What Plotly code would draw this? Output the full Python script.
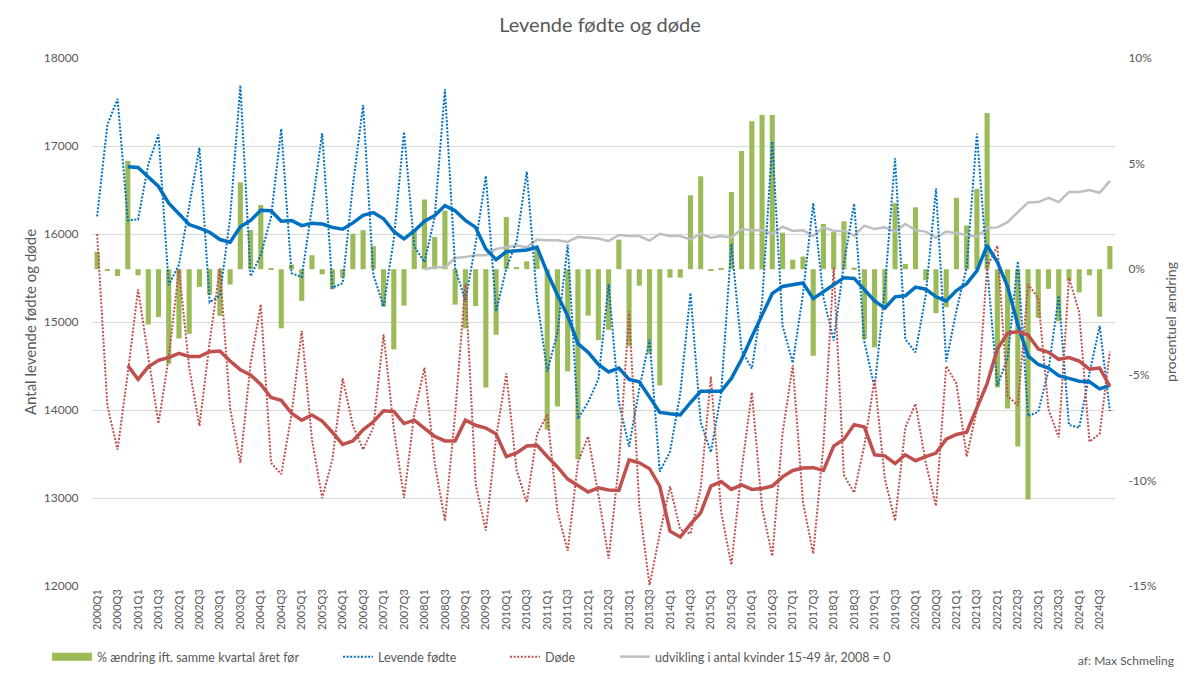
import plotly.graph_objects as go

# ---------------- data ----------------
years = list(range(2000, 2025))
quarters = [f"{y}Q{q}" for y in years for q in (1, 2, 3, 4)]

# Levende fødte (quarterly)
births = [
    16200, 17240, 17535, 16155,
    16165, 16790, 17130, 15420,
    15650, 16300, 16980, 15225,
    15300, 16180, 17690, 15520,
    15760, 16190, 17195, 15555,
    15510, 16300, 17145, 15390,
    15440, 16550, 17465, 15540,
    15175, 15940, 17160, 15860,
    15680, 16190, 17645, 15610,
    15240, 15890, 16660, 15120,
    15610, 15915, 16710, 15260,
    14440, 14880, 15880, 13900,
    14090, 14350, 15430, 14090,
    13585, 14240, 14800, 13300,
    13525, 14185, 15330, 13860,
    13520, 14190, 15890, 14680,
    14470, 15220, 17050, 14960,
    14535, 15317, 16351, 15280,
    14790, 15665, 16345, 14776,
    14250, 15383, 16860, 14805,
    14656, 15303, 16515, 14550,
    15130, 15620, 17140, 15622,
    14276, 14589, 15690, 13930,
    13980, 14453, 15300, 13830,
    13800, 14414, 14955, 13986,
]

# Døde (quarterly)
deaths = [
    16000, 14050, 13550, 14420,
    15370, 14620, 13846, 14600,
    15600, 14480, 13820, 14770,
    15610, 14020, 13400, 14530,
    15200, 13400, 13272, 13946,
    14900, 13664, 13000, 13438,
    14360, 13824, 13550, 13802,
    14860, 13792, 13000, 13958,
    14480, 13396, 12741, 13958,
    15440, 13160, 12630, 13690,
    14415, 13320, 12950, 13722,
    13950, 12848, 12400, 13406,
    13700, 13036, 12310, 13382,
    15120, 12908, 12010, 12594,
    13130, 12640, 12594, 13114,
    14380, 12844, 12240, 13318,
    14200, 12888, 12340, 13734,
    14510, 12950, 12368, 13606,
    15615, 13260, 13060, 13600,
    14350, 13220, 12740, 13800,
    14070, 13400, 12910, 14500,
    14300, 13470, 14004, 15626,
    15866, 14160, 14050, 15430,
    15270, 14004, 13690, 15500,
    15110, 13640, 13730, 14664,
]

# % ændring ift. samme kvartal året før (births)
pct_change = [
    0.83, -0.05, -0.32, 5.13,
    -0.29, -2.62, -2.26, -4.48,
    -3.28, -3.06, -0.84, -1.22,
    -2.21, -0.73, 4.11, 1.85,
    3.04, 0.03, -2.8, 0.22,
    -1.5, 0.66, -0.24, -0.95,
    -0.4, 1.68, 1.85, 1.1,
    -1.77, -3.8, -1.72, 1.9,
    3.3, 1.53, 2.77, -1.68,
    -2.8, -1.75, -5.6, -3.1,
    2.47, 0.1, 0.37, 0.96,
    -7.6, -6.5, -4.84, -9.0,
    -2.2, -3.36, -2.87, 1.4,
    -3.65, -0.78, -4.0, -5.5,
    -0.4, -0.4, 3.5, 4.4,
    -0.08, 0.05, 3.65, 5.6,
    7.0, 7.3, 7.3, 1.73,
    0.45, 0.6, -4.1, 2.14,
    1.76, 2.27, 0.08, -3.3,
    -3.7, -1.8, 3.13, 0.25,
    2.93, -0.52, -2.08, -1.8,
    3.38, 2.07, 3.8, 7.4,
    -5.6, -6.6, -8.4, -10.9,
    -2.3, -0.93, -2.46, -0.55,
    -1.1, -0.29, -2.25, 1.1,
]

# 4-quarter moving averages (from 2000Q4)
births_ma = [
    16765,
    16757, 16647, 16540, 16351,
    16225, 16107, 16067, 16020,
    15937, 15906, 16083, 16154,
    16270, 16264, 16146, 16154,
    16095, 16122, 16114, 16075,
    16055, 16126, 16213, 16244,
    16173, 16028, 15945, 16035,
    16146, 16209, 16323, 16264,
    16154, 16075, 15830, 15708,
    15799, 15807, 15818, 15850,
    15562, 15306, 15069, 14754,
    14655, 14517, 14432, 14477,
    14347, 14320, 14142, 13972,
    13957, 13945, 14083, 14213,
    14213, 14213, 14359, 14576,
    14832, 15088, 15325, 15404,
    15424, 15444, 15266, 15345,
    15424, 15503, 15495, 15365,
    15239, 15156, 15286, 15298,
    15396, 15373, 15286, 15239,
    15357, 15436, 15582, 15870,
    15680, 15404, 14970, 14615,
    14517, 14477, 14390, 14359,
    14327, 14320, 14240, 14280,
]

deaths_ma = [
    14505,
    14348, 14490, 14564, 14596,
    14643, 14608, 14608, 14663,
    14671, 14556, 14458, 14399,
    14290, 14142, 14110, 13964,
    13885, 13944, 13874, 13747,
    13609, 13649, 13775, 13866,
    13992, 13984, 13846, 13885,
    13787, 13700, 13649, 13649,
    13885, 13826, 13795, 13728,
    13471, 13511, 13590, 13598,
    13471, 13353, 13215, 13136,
    13069, 13116, 13091, 13085,
    13432, 13400, 13333, 13136,
    12623, 12556, 12702, 12832,
    13136, 13187, 13097, 13148,
    13097, 13108, 13136, 13240,
    13313, 13341, 13345, 13313,
    13590, 13668, 13834, 13806,
    13491, 13479, 13392, 13491,
    13424, 13471, 13511, 13668,
    13722, 13747, 14023, 14300,
    14694, 14871, 14891, 14852,
    14694, 14655, 14576, 14596,
    14556, 14465, 14477, 14268,
]

# udvikling i antal kvinder 15-49 år, 2008 = 0 (from 2008Q1, %)
women = [
    0.0, 0.09, 0.09, 0.53,
    0.58, 0.66, 0.66, 0.96,
    1.04, 1.12, 1.04, 1.40,
    1.37, 1.37, 1.29, 1.53,
    1.49, 1.45, 1.33, 1.62,
    1.57, 1.57, 1.35, 1.68,
    1.57, 1.57, 1.41, 1.68,
    1.49, 1.57, 1.49, 1.90,
    1.85, 1.85, 1.68, 2.01,
    1.81, 1.85, 1.57, 1.98,
    1.81, 1.81, 1.60, 2.06,
    1.90, 1.98, 1.78, 2.14,
    1.85, 1.78, 1.49, 1.78,
    1.70, 1.62, 1.54, 1.95,
    1.98, 2.23, 2.72, 3.16,
    3.18, 3.38, 3.18, 3.66,
    3.66, 3.75, 3.62, 4.18,
]

left_tickvals = [12000, 13000, 14000, 15000, 16000, 17000, 18000]
left_ticktext = ["12000", "13000", "14000", "15000", "16000", "17000", "18000"]
right_tickvals = [-15, -10, -5, 0, 5, 10]
right_ticktext = ["-15%", "-10%", "-5%", "0%", "5%", "10%"]
x_tickvals = quarters[::2]

# ---------------- styles ----------------
GREEN = "#9BBB59"
BLUE = "#0070C0"
RED = "#C0504D"
GRAY = "#BFBFBF"
TXT = "#595959"
GRID = "#D9D9D9"
FONT = "Lato, 'Open Sans', sans-serif"
DOT = "2px,1.6px"

fig = go.Figure()

# bars and women line on the percent axis (y, right side)
fig.add_trace(go.Bar(
    x=quarters, y=pct_change, yaxis="y", name="% ændring ift. samme kvartal året før",
    marker=dict(color=GREEN, line=dict(width=0)), showlegend=False,
))
fig.add_trace(go.Scatter(
    x=quarters[32:], y=women, yaxis="y", mode="lines",
    name="udvikling i antal kvinder 15-49 år, 2008 = 0",
    line=dict(color=GRAY, width=2.5), legend="legend4",
))
# count series on the left axis (y2)
fig.add_trace(go.Scatter(
    x=quarters, y=births, yaxis="y2", mode="lines", name="Levende fødte",
    line=dict(color=BLUE, width=2, dash=DOT), legend="legend2",
))
fig.add_trace(go.Scatter(
    x=quarters, y=deaths, yaxis="y2", mode="lines", name="Døde",
    line=dict(color=RED, width=2, dash=DOT), legend="legend3",
))
fig.add_trace(go.Scatter(
    x=quarters[3:], y=births_ma, yaxis="y2", mode="lines", name="Levende fødte (glid. gns.)",
    line=dict(color=BLUE, width=3.5), showlegend=False,
))
fig.add_trace(go.Scatter(
    x=quarters[3:], y=deaths_ma, yaxis="y2", mode="lines", name="Døde (glid. gns.)",
    line=dict(color=RED, width=3.5), showlegend=False,
))
# legend key for the bars (wide green rectangle as in the original)
fig.add_trace(go.Scatter(
    x=[None], y=[None], yaxis="y", mode="lines",
    name="% ændring ift. samme kvartal året før",
    line=dict(color=GREEN, width=8), legend="legend",
))

legend_common = dict(
    orientation="h", xref="container", yref="container", yanchor="middle",
    y=1 - 657 / 680, font=dict(size=12.5, color=TXT, family=FONT),
    bgcolor="rgba(0,0,0,0)", borderwidth=0,
)

fig.update_layout(
    width=1200, height=680,
    margin=dict(l=92, r=85, t=58, b=94),
    paper_bgcolor="white", plot_bgcolor="white",
    font=dict(family=FONT, color=TXT, size=12),
    title=dict(text="Levende fødte og døde", x=0.5, xanchor="center",
               y=1 - 25 / 680, yanchor="middle", yref="container",
               font=dict(size=20, color=TXT, family=FONT)),
    bargap=0.5,
    xaxis=dict(type="category", categoryorder="array", categoryarray=quarters,
               range=[-0.5, 99.5], tickmode="array", tickvals=x_tickvals,
               tickangle=-90, showgrid=False, showline=False, zeroline=False,
               ticks="", tickfont=dict(size=11, color=TXT, family=FONT)),
    yaxis=dict(side="right", range=[-15, 10], tickmode="array",
               tickvals=right_tickvals, ticktext=right_ticktext,
               showgrid=False, zeroline=False, showline=False,
               ticks="outside", ticklen=10, tickcolor="rgba(0,0,0,0)",
               tickfont=dict(size=12, color=TXT, family=FONT),
               title=dict(text="procentuel ændring", standoff=10,
                          font=dict(size=14, color=TXT, family=FONT))),
    yaxis2=dict(side="left", overlaying="y", range=[12000, 18000], tickmode="array",
                tickvals=left_tickvals, ticktext=left_ticktext,
                showgrid=True, gridcolor=GRID, gridwidth=1, zeroline=False, showline=False,
                ticks="outside", ticklen=10, tickcolor="rgba(0,0,0,0)",
                tickfont=dict(size=12, color=TXT, family=FONT),
                title=dict(text="Antal levende fødte og døde", standoff=3,
                           font=dict(size=15, color=TXT, family=FONT))),
    legend=dict(x=47 / 1200, itemwidth=40, **legend_common),
    legend2=dict(x=338 / 1200, itemwidth=30, **legend_common),
    legend3=dict(x=505 / 1200, itemwidth=30, **legend_common),
    legend4=dict(x=615 / 1200, itemwidth=30, **legend_common),
    annotations=[dict(text="af: Max Schmeling", xref="paper", yref="paper",
                      x=(1176 - 92) / 1023, xanchor="right",
                      y=(586 - 660) / 528, yanchor="middle", showarrow=False,
                      font=dict(size=12, color=TXT, family=FONT))],
)

fig.write_html("out.html")
